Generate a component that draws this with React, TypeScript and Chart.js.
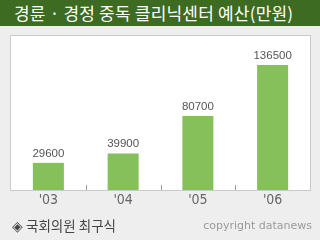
import React, { useEffect, useRef } from "react";
import { Chart, registerables } from "chart.js";

Chart.register(...registerables);

const TITLE = "경륜 · 경정 중독 클리닉센터 예산(만원)";
const SOURCE = "◈ 국회의원 최구식";
const COPYRIGHT = "copyright datanews";
const categories = ["'03", "'04", "'05", "'06"];
const budget = [29600, 39900, 80700, 136500];
const yMax = 168000;

const boxPlugin = {
  id: "boxPlugin",
  beforeDraw(chart: any) {
    const { ctx, chartArea: a } = chart;
    ctx.save();
    ctx.fillStyle = "#ffffff";
    ctx.fillRect(a.left - 1, a.top - 1, a.right - a.left + 2, a.bottom - a.top + 2);
    ctx.restore();
  },
  afterDatasetsDraw(chart: any) {
    const { ctx, chartArea: a } = chart;
    const xs = chart.scales.x;
    ctx.save();
    ctx.strokeStyle = "#9a9a9a";
    ctx.lineWidth = 1;
    for (let i = 1; i < categories.length; i++) {
      const x = Math.round((xs.getPixelForTick(i - 1) + xs.getPixelForTick(i)) / 2) + 0.5;
      ctx.beginPath();
      ctx.moveTo(x, a.bottom - 5);
      ctx.lineTo(x, a.bottom);
      ctx.stroke();
    }
    ctx.strokeStyle = "#cacaca";
    ctx.strokeRect(a.left - 0.5, a.top - 0.5, a.right - a.left + 1, a.bottom - a.top + 1);
    const meta = chart.getDatasetMeta(0);
    ctx.fillStyle = "#555555";
    ctx.font = "11.5px 'Liberation Sans'";
    ctx.textAlign = "center";
    ctx.textBaseline = "alphabetic";
    meta.data.forEach((bar: any, i: number) => {
      ctx.fillText(String(budget[i]), bar.x, bar.y - 6);
    });
    ctx.restore();
  },
};

export default function App() {
  const ref = useRef<HTMLCanvasElement>(null);
  useEffect(() => {
    if (!ref.current) return;
    const chart = new Chart(ref.current, {
      type: "bar",
      data: {
        labels: categories,
        datasets: [
          {
            data: budget,
            backgroundColor: "#86c05a",
            borderWidth: 0,
            categoryPercentage: 1,
            barPercentage: 0.415,
          },
        ],
      },
      options: {
        animation: false,
        responsive: false,
        maintainAspectRatio: false,
        layout: { padding: { left: 11, right: 10, top: 36, bottom: 0 } },
        plugins: { legend: { display: false }, tooltip: { enabled: false }, title: { display: false } },
        scales: {
          x: {
            grid: { display: false, drawTicks: false },
            border: { display: false },
            ticks: {
              color: "#666666",
              font: { family: "'Liberation Sans Narrow', 'DejaVu Sans Condensed', 'Liberation Sans'", size: 14 },
              padding: 2,
              maxRotation: 0,
            },
            afterFit(s: any) {
              s.height = 50;
            },
          },
          y: { display: false, min: 0, max: yMax },
        },
      },
      plugins: [boxPlugin],
    });
    return () => chart.destroy();
  }, []);

  return (
    <div
      style={{
        position: "fixed",
        left: 0,
        top: 0,
        width: 320,
        height: 240,
        background: "#eeeeee",
        overflow: "hidden",
      }}
    >
      <canvas ref={ref} width={320} height={240} style={{ position: "absolute", left: 0, top: 0 }} />
      <div
        style={{
          position: "absolute",
          left: 0,
          top: 0,
          width: 320,
          height: 26,
          background: "#3d6b21",
          color: "#ffffff",
          fontFamily: "'Noto Sans CJK KR'",
          fontSize: 17,
          letterSpacing: "0.2px",
          lineHeight: "26px",
          paddingLeft: 14,
          boxSizing: "border-box",
          whiteSpace: "nowrap",
        }}
      >
        {TITLE}
      </div>
      <div
        style={{
          position: "absolute",
          left: 12,
          top: 216,
          color: "#444444",
          fontFamily: "'Noto Sans CJK KR'",
          fontSize: 13.5,
          lineHeight: "18px",
          whiteSpace: "nowrap",
        }}
      >
        {SOURCE}
      </div>
      <div
        style={{
          position: "absolute",
          right: 8,
          top: 218,
          color: "#9a9a9a",
          fontFamily: "'DejaVu Sans'",
          fontSize: 11,
          lineHeight: "16px",
          whiteSpace: "nowrap",
        }}
      >
        {COPYRIGHT}
      </div>
    </div>
  );
}
